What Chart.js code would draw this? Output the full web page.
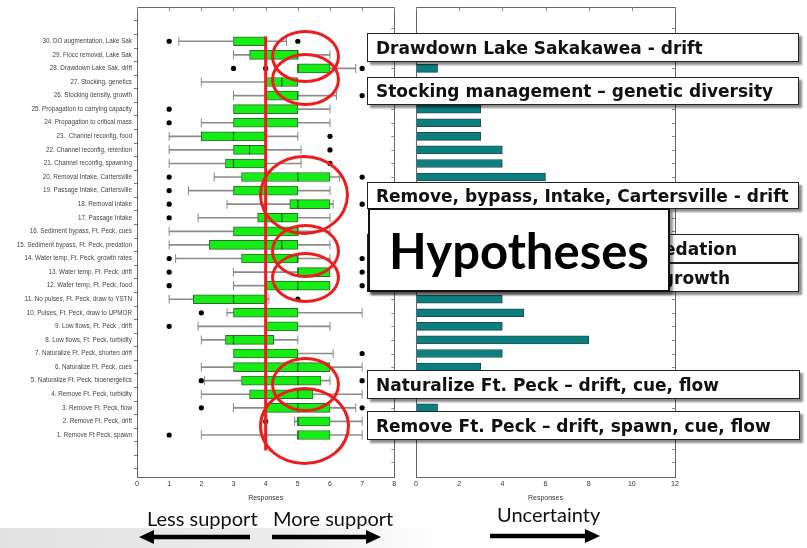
<!DOCTYPE html>
<html><head><meta charset="utf-8">
<script src="https://cdn.jsdelivr.net/npm/chart.js@4/dist/chart.umd.min.js"></script>
<style>
html,body{margin:0;padding:0;background:#fff;width:807px;height:548px;overflow:hidden;position:relative}
canvas{position:absolute;top:0}
#c1{left:0}
#c2{left:400px}
.band{position:absolute;left:0;top:528px;width:807px;height:20px;background:linear-gradient(to right,#e2e2e2 0%,#ececec 35%,#ffffff 55%)}
.ell{position:absolute;border:3.5px solid #ee1c1c;border-radius:50%;box-sizing:border-box}
.call{position:absolute;background:#fff;border:1.5px solid #222;box-sizing:border-box;box-shadow:3px 3px 2px rgba(0,0,0,0.45);font-family:'DejaVu Sans',sans-serif;font-weight:bold;font-size:17px;color:#111;white-space:nowrap;overflow:hidden;padding-left:8px;display:flex;align-items:center}
.right{justify-content:flex-end;padding-right:0}
.hyp{position:absolute;left:368px;top:208px;width:302px;height:84px;background:#fff;border:2px solid #111;box-sizing:border-box;box-shadow:3px 3px 2px rgba(0,0,0,0.4);font-family:Lato,sans-serif;font-weight:bold;font-size:49px;color:#000;display:flex;align-items:center;justify-content:center}
.lbl{position:absolute;font-family:Lato,sans-serif;font-size:20px;color:#111;white-space:nowrap}
svg{position:absolute;left:0;top:0}
</style></head><body>
<div class="band"></div>
<canvas id="c1" width="400" height="510"></canvas>
<canvas id="c2" width="290" height="510"></canvas>

<div class="ell" style="left:271px;top:30px;width:69px;height:53px"></div>
<div class="ell" style="left:271px;top:53px;width:69px;height:53px"></div>
<div class="ell" style="left:259px;top:155px;width:90px;height:80px"></div>
<div class="ell" style="left:271px;top:224px;width:69px;height:54px"></div>
<div class="ell" style="left:271px;top:252px;width:69px;height:51px"></div>
<div class="ell" style="left:271px;top:357px;width:69px;height:55px"></div>
<div class="ell" style="left:259px;top:387px;width:91px;height:78px"></div>

<div class="call" style="left:367px;top:33px;width:432px;height:29px">Drawdown Lake Sakakawea - drift</div>
<div class="call" style="left:367px;top:77px;width:432px;height:28px">Stocking management – genetic diversity</div>
<div class="call" style="left:367px;top:182px;width:432px;height:27px">Remove, bypass, Intake, Cartersville - drift</div>
<div class="call right" style="left:367px;top:234px;width:432px;height:29px;padding-right:61px">Sediment bypass, Ft. Peck – predation</div>
<div class="call right" style="left:367px;top:263px;width:432px;height:29px;padding-right:68px">Water temp, Ft. Peck – growth</div>
<div class="hyp">Hypotheses</div>
<div class="call" style="left:367px;top:370px;width:433px;height:29px">Naturalize Ft. Peck – drift, cue, flow</div>
<div class="call" style="left:367px;top:411px;width:433px;height:29px">Remove Ft. Peck – drift, spawn, cue, flow</div>

<div class="lbl" style="left:147px;top:506px">Less support</div>
<div class="lbl" style="left:273px;top:506px">More support</div>
<div class="lbl" style="left:497px;top:502px">Uncertainty</div>
<svg width="807" height="548">
  <g stroke="#000" stroke-width="4.5" fill="#000">
    <line x1="250" y1="537" x2="152" y2="537"/>
    <polygon points="139,537 154,530 154,544" stroke="none"/>
    <line x1="272" y1="537" x2="368" y2="537"/>
    <polygon points="381,537 366,530 366,544" stroke="none"/>
    <line x1="490" y1="536" x2="587" y2="536"/>
    <polygon points="600,536 585,529 585,543" stroke="none"/>
  </g>
</svg>

<script>
// ---------------- data ----------------
const hypothesisLabels = [
  "1. Remove Ft Peck, spawn",
  "2. Remove Ft. Peck, drift",
  "3. Remove Ft. Peck, flow",
  "4. Remove Ft. Peck, turbidity",
  "5. Naturalize Ft. Peck, bioenergetics",
  "6. Naturalize Ft. Peck, cues",
  "7. Naturalize Ft. Peck, shorten drift",
  "8. Low flows, Ft. Peck, turbidity",
  "9. Low flows, Ft. Peck , drift",
  "10. Pulses, Ft. Peck, draw to UPMOR",
  "11. No pulses, Ft. Peck, draw to YSTN",
  "12. Water temp, Ft. Peck, food",
  "13. Water temp, Ft. Peck, drift",
  "14. Water temp, Ft. Peck, growth rates",
  "15. Sediment bypass, Ft. Peck, predation",
  "16. Sediment bypass, Ft. Peck, cues",
  "17. Passage Intake",
  "18. Removal Intake",
  "19. Passage Intake, Cartersville",
  "20. Removal Intake, Cartersville",
  "21. Channel reconfig, spawning",
  "22. Channel reconfig, retention",
  "23.  Channel reconfig, food",
  "24. Propagation to critical mass",
  "25. Propagation to carrying capacity",
  "26. Stocking density, growth",
  "27. Stocking, genetics",
  "28. Drawdown Lake Sak, drift",
  "29. Flocc removal, Lake Sak",
  "30. DO augmentation, Lake Sak"
];
//                 1    2    3    4     5    6    7    8     9    10   11    12  13   14   15    16  17    18   19   20   21    22   23  24  25  26   27  28   29   30
const whiskerLow = [2,   4.9, 3,   2,    2.1, 2,   3,   2,    1.9, 2.8, 1,    3,  3,   1.2, 1,    1,  1.9,  2.8, 1.6, 2.4, 1,    1,   1,  2,  3,  3,   2,  5,   3,   1.3];
const boxQ1      = [5,   5,   4,   3.5,  3.25,3,   3,   2.75, 4,   3,   1.75, 4,  5,   3.25,2.25, 3,  3.75, 4.75,3,   3.25,2.75, 3,   2,  3,  3,  4,   4,  5,   3.5, 3];
const boxMedian  = [5,   5,   5,   5,    5,   5,   4,   3,    4,   4,   3,    5,  5,   5,   4.5,  5,  4.5,  5,   4,   5,   3,    3.5, 3,  4,  4,  5,   4.5,5,   5,   4];
const boxQ3      = [6,   6,   6,   5.47, 5.72,6,   5,   4.25, 5,   5,   4,    6,  6,   5,   5,    5,  5,    6,   5,   6,   4,    4,   4,  5,  5,  5,   5,  6,   5,   4];
const whiskerHigh= [7,   7,   6.8, 7,    6,   7,   6.1, 5,    6,   7,   4.1,  6,  6,   6,   6,    6,  6,    6.1, 6,   6.3, 5.1,  5.1, 5,  6,  6,  6.2, 5,  6.8, 6,   4.65];
const outlierRows   = [1, 2, 3, 3, 5, 5, 7, 9, 10, 11, 12, 12, 13, 13, 14, 14, 17, 18, 18, 19, 20, 20, 21, 22, 23, 24, 25, 26, 28, 28, 28, 30, 30];
const outlierValues = [1, 4, 2, 7, 2, 7, 7, 1, 2,  5,  1,  7,  1,  7,  1,  7,  1,  1,  7,  1,  1,  7,  6,  6,  6,  1,  1,  7,  3,  4,  7,  1,  5];
const uncertaintyCounts = [3, 2, 1, 5, 2, 3, 4, 8, 4, 5, 4, 4, 3, 3, 4, 3, 4, 3, 5, 6, 4, 4, 3, 3, 3, 3, 6, 1, 2, 10];
const supportLine = 4;
const supportTicks = [0, 1, 2, 3, 4, 5, 6, 7, 8];
const uncertaintyTicks = [0, 2, 4, 6, 8, 10, 12];
const rowTicks = [-1,0,1,2,3,4,5,6,7,8,9,10,11,12,13,14,15,16,17,18,19,20,21,22,23,24,25,26,27,28,29,30,31];

// ---------------- helpers ----------------
const rows = hypothesisLabels.map((_, i) => i + 1);
const AXIS_FONT = {family: "'Liberation Sans', Arial, sans-serif", size: 7};

const framePlugin = {
  id: 'frame',
  afterDatasetsDraw(chart) {
    const {ctx, chartArea: a, scales} = chart;
    ctx.save();
    ctx.strokeStyle = '#666';
    ctx.lineWidth = 1;
    ctx.strokeRect(Math.round(a.left) + 0.5, Math.round(a.top) + 0.5, Math.round(a.right - a.left), Math.round(a.bottom - a.top));
    ctx.strokeStyle = '#888';
    ctx.beginPath();
    scales.x.ticks.forEach(t => {
      const px = Math.round(scales.x.getPixelForValue(t.value)) + 0.5;
      ctx.moveTo(px, a.top); ctx.lineTo(px, a.top + 4);
    });
    scales.y.ticks.forEach(t => {
      const py = Math.round(scales.y.getPixelForValue(t.value)) + 0.5;
      ctx.moveTo(a.right, py); ctx.lineTo(a.right - 3, py);
    });
    ctx.stroke();
    ctx.restore();
  }
};

function yScale(showLabels, width) {
  return {
    type: 'linear', min: -1.571, max: 32,
    afterBuildTicks: s => { s.ticks = rowTicks.map(v => ({value: v})); },
    afterFit: s => { s.width = width; },
    ticks: {
      autoSkip: false, padding: 2, color: '#444',
      font: {family: "'Liberation Sans', Arial, sans-serif", size: 6.3},
      display: showLabels,
      callback: v => (v >= 1 && v <= 30 && showLabels) ? hypothesisLabels[v - 1] : ''
    },
    grid: {display: showLabels, drawOnChartArea: false, drawTicks: true, tickLength: 3, color: '#777'},
    border: {display: false}
  };
}
function xScale(max, tickVals) {
  return {
    type: 'linear', min: 0, max: max,
    afterBuildTicks: s => { s.ticks = tickVals.map(v => ({value: v})); },
    afterFit: s => { s.height = 33; },
    ticks: {color: '#333', font: AXIS_FONT, padding: 3, maxRotation: 0, autoSkip: false},
    grid: {display: false, drawTicks: false},
    border: {display: false},
    title: {display: true, text: 'Responses', color: '#333', font: AXIS_FONT, padding: {top: 0, bottom: 8}}
  };
}

// whisker cap points
const capPoints = [];
rows.forEach((r, i) => {
  if (whiskerLow[i] < boxQ1[i]) capPoints.push({x: whiskerLow[i], y: r});
  if (whiskerHigh[i] > boxQ3[i]) capPoints.push({x: whiskerHigh[i], y: r});
});

new Chart(document.getElementById('c1'), {
  type: 'bar',
  data: {
    datasets: [
      {
        type: 'bar', label: 'whiskers', order: 6, indexAxis: 'y', grouped: false,
        data: rows.map((r, i) => ({x: [whiskerLow[i], whiskerHigh[i]], y: r})),
        backgroundColor: '#8c8c8c', borderWidth: 0, barThickness: 1
      },
      {
        type: 'scatter', label: 'caps', order: 5,
        data: capPoints, pointStyle: 'line', rotation: 90, radius: 4.5,
        borderColor: '#8c8c8c', borderWidth: 1
      },
      {
        type: 'bar', label: 'boxes', order: 4, indexAxis: 'y', grouped: false,
        data: rows.map((r, i) => ({x: [boxQ1[i], boxQ3[i]], y: r})),
        backgroundColor: '#14ee14', borderColor: '#2f6a2f', borderWidth: 1, borderSkipped: false, barThickness: 9
      },
      {
        type: 'scatter', label: 'medians', order: 3,
        data: rows.map((r, i) => ({x: boxMedian[i], y: r})),
        pointStyle: 'line', rotation: 90, radius: 4.5, borderColor: '#1d5a1d', borderWidth: 1.2
      },
      {
        type: 'scatter', label: 'outliers', order: 2,
        data: outlierRows.map((r, i) => ({x: outlierValues[i], y: r})),
        pointStyle: 'circle', radius: 2.6, backgroundColor: '#000', borderWidth: 0
      },
      {
        type: 'line', label: 'support', order: 1,
        data: [{x: supportLine, y: 30.36}, {x: supportLine, y: -0.14}],
        borderColor: '#ee1c1c', borderWidth: 3, pointRadius: 0, fill: false
      }
    ]
  },
  options: {
    responsive: false, animation: false, indexAxis: 'y',
    layout: {padding: {top: 7, right: 5, left: 0, bottom: 0}},
    plugins: {legend: {display: false}, tooltip: {enabled: false}},
    scales: {x: xScale(8, supportTicks), y: yScale(true, 137)}
  },
  plugins: [framePlugin]
});

new Chart(document.getElementById('c2'), {
  type: 'bar',
  data: {
    datasets: [{
      label: 'uncertainty', indexAxis: 'y', grouped: false,
      data: rows.map((r, i) => ({x: uncertaintyCounts[i], y: r})),
      backgroundColor: '#0b7f80', borderColor: '#244c4c', borderWidth: 1, borderSkipped: false, barThickness: 8
    }]
  },
  options: {
    responsive: false, animation: false, indexAxis: 'y',
    layout: {padding: {top: 7, right: 15, left: 0, bottom: 0}},
    plugins: {legend: {display: false}, tooltip: {enabled: false}},
    scales: {x: xScale(12, uncertaintyTicks), y: yScale(false, 16)}
  },
  plugins: [framePlugin]
});
</script>
</body></html>
